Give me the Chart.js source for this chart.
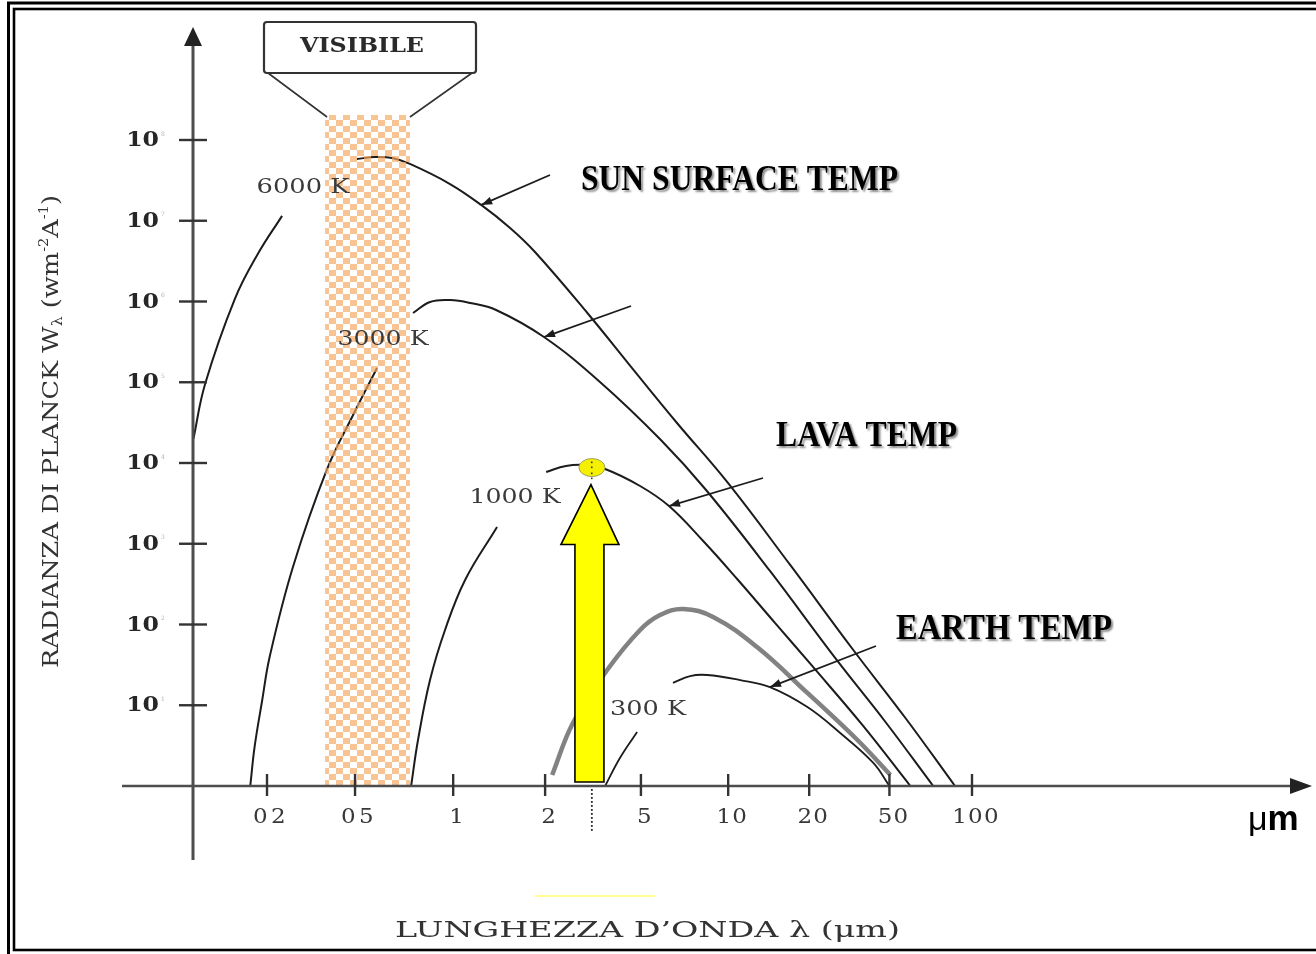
<!DOCTYPE html>
<html lang="it">
<head>
<meta charset="utf-8">
<title>Radianza di Planck</title>
<script src="https://cdn.jsdelivr.net/npm/chart.js@4.4.1/dist/chart.umd.min.js"></script>
<style>
  html, body { margin: 0; padding: 0; background: #ffffff; }
  canvas { display: block; }
</style>
</head>
<body>
<canvas id="planck" width="1316" height="954"></canvas>
<script>
// ---- axis ticks -------------------------------------------------------
const WAVE_TICKS = [0.2, 0.5, 1, 2, 5, 10, 20, 50, 100];            // µm
const WAVE_TICK_LABELS = ['02', '05', '1', '2', '5', '10', '20', '50', '100'];
const RAD_TICKS = [1e1, 1e2, 1e3, 1e4, 1e5, 1e6, 1e7, 1e8];
const RAD_TICK_EXP = ['1', '2', '3', '4', '5', '6', '7', '8'];

// ---- black-body curves: wavelength (µm) / spectral radiance ------------
// null marks the break in the line where the temperature label sits
const T6000_UM = [0.093, 0.105, 0.143, 0.182, 0.234, 0.37, 0.507, 0.576, 0.65, 0.737, 0.978, 1.235, 1.536, 1.853, 3.02, 4.55, 6.66, 9.92, 17.0, 33.1, 57.2, 86.7];
const T6000_W  = [2.0e4, 9.5e4, 1.07e6, 3.9e6, 1.15e7, null, 5.82e7, 6.15e7, 5.98e7, 5.05e7, 2.85e7, 1.57e7, 8.13e6, 4.10e6, 7.0e5, 1.55e5, 3.13e4, 5.82e3, 546, 48.3, 6.95, 1];

const T3000_UM = [0.168, 0.176, 0.190, 0.206, 0.262, 0.374, 0.49, 0.584, 0.66, 0.753, 0.849, 0.978, 1.137, 1.382, 1.983, 3.38, 5.86, 8.39, 14.3, 26.9, 47.8, 72.2];
const T3000_W  = [1, 3.13, 11.3, 40.7, 515, 8.43e3, 3.93e4, 1.5e5, null, 7.21e5, 9.86e5, 1.04e6, 9.58e5, 7.85e5, 3.63e5, 1.01e5, 1.93e4, 4.63e3, 460, 38.5, 6.2, 1];

const T1000_UM = [0.743, 0.78, 0.849, 0.944, 1.094, 1.392, 1.7, 2.02, 2.44, 2.93, 3.55, 4.96, 6.25, 8.2, 10.8, 14.95, 20.9, 36.7, 59.6];
const T1000_W  = [1, 3.71, 20.5, 85.5, 356, 1.61e3, null, 7.74e3, 9.18e3, 9.44e3, 8.43e3, 5.19e3, 2.93e3, 1.08e3, 366, 104, 29.8, 5.7, 1];

const WARM_UM = [2.14, 2.61, 3.62, 4.96, 5.82, 6.99, 8.87, 12.8, 19.7, 34.7, 50.4];
const WARM_W  = [1.37, 6.03, 27.3, 85.5, 131, 156, 124, 52.6, 14.2, 3.71, 1.37];

const T300_UM = [3.55, 4.09, 4.82, 5.6, 6.45, 7.39, 8.46, 11.08, 14.3, 19.7, 28.5, 41.6, 50];
const T300_W  = [1, 2.22, 4.66, null, 18.9, 23.0, 23.7, 20.5, 16.8, 9.5, 4.53, 1.93, 1];

// visible window and the 1000 K emission peak that the yellow arrow marks
const VISIBLE_UM = [0.366, 0.737];
const PEAK_UM = 3.1;
const PEAK_W = 9.3e3;

// ---- hand-drawn wavelength axis: log steps, uneven spacing ------------
const STEP_SPOTS = [0.095, 0.208, 0.334, 0.452, 0.575, 0.687, 0.791, 0.894, 1.0];

class StepLogScale extends Chart.Scale {
  static id = 'steplog';
  static defaults = {};
  determineDataLimits() {
    this.min = WAVE_TICKS[0];
    this.max = WAVE_TICKS[WAVE_TICKS.length - 1];
  }
  buildTicks() {
    return WAVE_TICKS.map(v => ({ value: v }));
  }
  getLabelForValue(v) { return String(v); }
  _decimal(v) {
    let i = 0;
    while (i < WAVE_TICKS.length - 2 && v > WAVE_TICKS[i + 1]) i++;
    const a = Math.log10(WAVE_TICKS[i]), b = Math.log10(WAVE_TICKS[i + 1]);
    return STEP_SPOTS[i] + (Math.log10(v) - a) / (b - a) * (STEP_SPOTS[i + 1] - STEP_SPOTS[i]);
  }
  getPixelForValue(v) {
    if (v === null || v === undefined || isNaN(v) || v <= 0) return NaN;
    return this.getPixelForDecimal(this._decimal(v));
  }
  getValueForPixel(p) {
    const d = this.getDecimalForPixel(p);
    let i = 0;
    while (i < STEP_SPOTS.length - 2 && d > STEP_SPOTS[i + 1]) i++;
    const a = Math.log10(WAVE_TICKS[i]), b = Math.log10(WAVE_TICKS[i + 1]);
    const t = (d - STEP_SPOTS[i]) / (STEP_SPOTS[i + 1] - STEP_SPOTS[i]);
    return Math.pow(10, a + t * (b - a));
  }
}
Chart.register(StepLogScale);

// ---- drawing helpers ---------------------------------------------------
const SERIF = '"DejaVu Serif", "Liberation Serif", serif';
const TIMES = '"Liberation Serif", "DejaVu Serif", serif';
const SANS = '"Liberation Sans", Arial, sans-serif';

function textRun(ctx, text, x, y, o) {
  ctx.save();
  ctx.font = o.font;
  ctx.letterSpacing = o.spacing || '0px';
  ctx.textBaseline = o.baseline || 'middle';
  ctx.textAlign = 'left';
  const w = ctx.measureText(text).width;
  const sx = o.width ? o.width / w : (o.sx || 1);
  const dw = w * sx;
  let left = x;
  if (o.align === 'center') left = x - dw / 2;
  else if (o.align === 'right') left = x - dw;
  ctx.translate(left, y);
  ctx.scale(sx, 1);
  if (o.shadow) {
    ctx.shadowColor = o.shadow;
    ctx.shadowOffsetX = 2; ctx.shadowOffsetY = 2; ctx.shadowBlur = 2;
  }
  ctx.fillStyle = o.color || '#000';
  ctx.fillText(text, 0, 0);
  ctx.restore();
  return dw;
}

// a run of mixed-size pieces (sub/superscripts) squeezed to a total length
function richRun(ctx, runs, total) {
  let w = 0;
  runs.forEach(r => { ctx.font = r.font; w += ctx.measureText(r.t).width; });
  const sx = total / w;
  let x = 0;
  runs.forEach(r => {
    ctx.font = r.font;
    const rw = ctx.measureText(r.t).width;
    ctx.save();
    ctx.translate(x, r.dy || 0);
    ctx.scale(sx, 1);
    ctx.fillText(r.t, 0, 0);
    ctx.restore();
    x += rw * sx;
  });
}

function pointer(ctx, tipX, tipY, tailX, tailY) {
  const ang = Math.atan2(tipY - tailY, tipX - tailX);
  ctx.save();
  ctx.strokeStyle = '#1c1c1c';
  ctx.fillStyle = '#1c1c1c';
  ctx.lineWidth = 1.8;
  ctx.beginPath(); ctx.moveTo(tailX, tailY); ctx.lineTo(tipX, tipY); ctx.stroke();
  ctx.translate(tipX, tipY);
  ctx.rotate(ang);
  ctx.beginPath(); ctx.moveTo(0, 0); ctx.lineTo(-11, -4); ctx.lineTo(-11, 4); ctx.closePath(); ctx.fill();
  ctx.restore();
}

function checkerPattern(ctx) {
  const tile = document.createElement('canvas');
  tile.width = 14; tile.height = 12;
  const t = tile.getContext('2d');
  t.fillStyle = 'rgba(246,168,98,0.68)';
  t.fillRect(0, 0, 7, 6);
  t.fillRect(7, 6, 7, 6);
  return ctx.createPattern(tile, 'repeat');
}

const diagramPlugin = {
  id: 'planckDiagram',
  beforeDraw(chart) {
    const ctx = chart.ctx;
    ctx.save();
    ctx.fillStyle = '#ffffff';
    ctx.fillRect(0, 0, chart.width, chart.height);
    ctx.restore();
  },
  afterDatasetsDraw(chart) {
    const ctx = chart.ctx;
    const xs = chart.scales.x, ys = chart.scales.y;
    const axisY = ys.getPixelForValue(1);
    const axisX = chart.chartArea.left;
    ctx.save();

    // visible window: checkered strip with its caption box
    const bl = xs.getPixelForValue(VISIBLE_UM[0]);
    const br = xs.getPixelForValue(VISIBLE_UM[1]);
    ctx.fillStyle = checkerPattern(ctx);
    ctx.fillRect(bl, 115, br - bl, axisY - 115);
    ctx.strokeStyle = '#333';
    ctx.lineWidth = 1.6;
    ctx.beginPath();
    ctx.moveTo(268, 73); ctx.lineTo(bl + 2, 117);
    ctx.moveTo(472, 73); ctx.lineTo(br, 117);
    ctx.stroke();
    ctx.fillStyle = '#fff';
    ctx.lineWidth = 2.2;
    ctx.beginPath(); ctx.roundRect(264, 22, 212, 51, 3); ctx.fill(); ctx.stroke();
    textRun(ctx, 'VISIBILE', 362, 47, { font: 'bold 20px ' + SERIF, width: 124, align: 'center', color: '#2a2a2a' });

    // axes with arrow heads
    ctx.strokeStyle = '#4d4d4d';
    ctx.fillStyle = '#222';
    ctx.lineWidth = 3;
    ctx.beginPath(); ctx.moveTo(axisX, 44); ctx.lineTo(axisX, 860); ctx.stroke();
    ctx.beginPath(); ctx.moveTo(axisX, 27); ctx.lineTo(axisX - 9, 46); ctx.lineTo(axisX + 9, 46); ctx.closePath(); ctx.fill();
    ctx.lineWidth = 2.5;
    ctx.beginPath(); ctx.moveTo(122, axisY); ctx.lineTo(1292, axisY); ctx.stroke();
    ctx.beginPath(); ctx.moveTo(1312, axisY); ctx.lineTo(1290, axisY - 8); ctx.lineTo(1290, axisY + 8); ctx.closePath(); ctx.fill();

    // wavelength ticks
    ctx.strokeStyle = '#333';
    ctx.lineWidth = 2.4;
    WAVE_TICKS.forEach((v, i) => {
      const px = xs.getPixelForValue(v);
      ctx.beginPath(); ctx.moveTo(px, axisY - 12); ctx.lineTo(px, axisY + 10); ctx.stroke();
      const txt = WAVE_TICK_LABELS[i];
      const spacing = txt.charAt(0) === '0' ? '3px' : '1px';
      textRun(ctx, txt, px + 4, 818, { font: '20px ' + SERIF, sx: 1.15, spacing, align: 'center', color: '#383838' });
    });

    // radiance decades
    RAD_TICKS.forEach((v, i) => {
      const py = ys.getPixelForValue(v);
      ctx.strokeStyle = '#333';
      ctx.beginPath(); ctx.moveTo(179, py); ctx.lineTo(207, py); ctx.stroke();
      textRun(ctx, '10', 159, py + 1, { font: 'bold 20px ' + SERIF, sx: 1.18, align: 'right', color: '#262626' });
      textRun(ctx, RAD_TICK_EXP[i], 161, py - 6, { font: '6px ' + SERIF, color: '#b0b0b0' });
    });

    // temperature labels
    const kOpt = { font: '21px ' + SERIF, align: 'center', color: '#3a3a3a' };
    textRun(ctx, '6000 K', 303, 188, Object.assign({ width: 93 }, kOpt));
    textRun(ctx, '3000 K', 383, 340, Object.assign({ width: 91 }, kOpt));
    textRun(ctx, '1000 K', 515, 498, Object.assign({ width: 91 }, kOpt));
    textRun(ctx, '300 K', 648, 710, Object.assign({ width: 76 }, kOpt));

    // pointers from the captions to their curves
    const tip = (um, w) => [xs.getPixelForValue(um), ys.getPixelForValue(w)];
    let p;
    p = tip(T6000_UM[11], T6000_W[11]); pointer(ctx, p[0], p[1], 550, 175);
    p = tip(T3000_UM[14], T3000_W[14]); pointer(ctx, p[0], p[1], 631, 306);
    p = tip(T1000_UM[12], T1000_W[12]); pointer(ctx, p[0], p[1], 763, 478);
    p = tip(T300_UM[8], T300_W[8]);     pointer(ctx, p[0], p[1], 876, 646);

    // captions
    const cap = { font: 'bold 36px ' + TIMES, color: '#000', shadow: 'rgba(0,0,0,0.45)' };
    textRun(ctx, 'SUN SURFACE TEMP', 581, 181, Object.assign({ width: 317 }, cap));
    textRun(ctx, 'LAVA TEMP', 776, 437, Object.assign({ width: 181 }, cap));
    textRun(ctx, 'EARTH TEMP', 896, 630, Object.assign({ width: 216 }, cap));

    // yellow arrow up to the 1000 K peak
    const mx = xs.getPixelForValue(PEAK_UM);
    const my = ys.getPixelForValue(PEAK_W);
    ctx.fillStyle = '#f4f000';
    ctx.strokeStyle = '#a0a060';
    ctx.lineWidth = 1;
    ctx.beginPath(); ctx.ellipse(mx + 1, my + 2, 13, 9, 0, 0, Math.PI * 2); ctx.fill(); ctx.stroke();
    ctx.fillStyle = '#333';
    [-4, 1, 7, 12].forEach(d => ctx.fillRect(mx, my + d, 1.6, 1.6));
    const tipY = my + 19, baseY = tipY + 60, bottom = axisY - 4;
    ctx.fillStyle = '#ffff00';
    ctx.strokeStyle = '#000';
    ctx.lineWidth = 1.6;
    ctx.beginPath();
    ctx.moveTo(mx, tipY);
    ctx.lineTo(mx + 28, baseY);
    ctx.lineTo(mx + 13, baseY);
    ctx.lineTo(mx + 13, bottom);
    ctx.lineTo(mx - 16, bottom);
    ctx.lineTo(mx - 16, baseY);
    ctx.lineTo(mx - 30, baseY);
    ctx.closePath();
    ctx.fill(); ctx.stroke();
    ctx.fillStyle = '#222';
    for (let yy = axisY + 3; yy <= 830; yy += 4) ctx.fillRect(mx, yy, 1.8, 1.8);
    ctx.strokeStyle = '#ffff70';
    ctx.lineWidth = 1.5;
    ctx.beginPath(); ctx.moveTo(535, 896); ctx.lineTo(655, 896); ctx.stroke();

    // axis titles
    ctx.fillStyle = '#333';
    ctx.textBaseline = 'middle';
    ctx.save();
    ctx.translate(52, 668);
    ctx.rotate(-Math.PI / 2);
    richRun(ctx, [
      { t: 'RADIANZA DI PLANCK W', font: '23px ' + SERIF },
      { t: 'λ', font: '14px ' + SERIF, dy: 6 },
      { t: ' (wm', font: '23px ' + SERIF },
      { t: '-2', font: '13px ' + SERIF, dy: -7 },
      { t: 'A', font: '23px ' + SERIF },
      { t: '-1', font: '13px ' + SERIF, dy: -7 },
      { t: ')', font: '23px ' + SERIF }
    ], 473);
    ctx.restore();
    textRun(ctx, 'LUNGHEZZA D’ONDA λ (μm)', 395, 931, { font: '23px ' + SERIF, width: 505, color: '#333' });

    // unit at the end of the wavelength axis
    const uw = textRun(ctx, 'μ', 1248, 830, { font: '34px ' + SANS, baseline: 'alphabetic', color: '#000' });
    textRun(ctx, 'm', 1248 + uw, 830, { font: 'bold 35px ' + SANS, baseline: 'alphabetic', color: '#000' });

    // double frame
    ctx.strokeStyle = '#000';
    ctx.lineWidth = 3;
    ctx.strokeRect(8.5, 3, 1400, 1000);
    ctx.lineWidth = 2.6;
    ctx.strokeRect(14, 9, 1400, 941);
    ctx.restore();
  }
};

// ---- chart -------------------------------------------------------------
const series = (um, w) => um.map((v, i) => ({ x: v, y: w[i] }));
const curve = (label, um, w, color, width) => ({
  label,
  data: series(um, w),
  borderColor: color,
  borderWidth: width,
  pointRadius: 0,
  fill: false,
  spanGaps: false,
  tension: 0.4,
  clip: false
});

new Chart(document.getElementById('planck'), {
  type: 'line',
  data: {
    datasets: [
      curve('6000 K', T6000_UM, T6000_W, '#1c1c1c', 2),
      curve('3000 K', T3000_UM, T3000_W, '#1c1c1c', 2),
      curve('1000 K', T1000_UM, T1000_W, '#1c1c1c', 2),
      curve('warm', WARM_UM, WARM_W, '#828282', 4.5),
      curve('300 K', T300_UM, T300_W, '#1c1c1c', 1.8)
    ]
  },
  options: {
    responsive: false,
    animation: false,
    devicePixelRatio: 1,
    events: [],
    layout: { padding: { left: 193, right: 344, top: 140, bottom: 168 } },
    scales: {
      x: { type: 'steplog', display: false, ticks: { display: false, autoSkip: false } },
      y: { type: 'logarithmic', display: false, min: 1, max: 1e8 }
    },
    plugins: {
      legend: { display: false },
      tooltip: { enabled: false }
    }
  },
  plugins: [diagramPlugin]
});
</script>
</body>
</html>
